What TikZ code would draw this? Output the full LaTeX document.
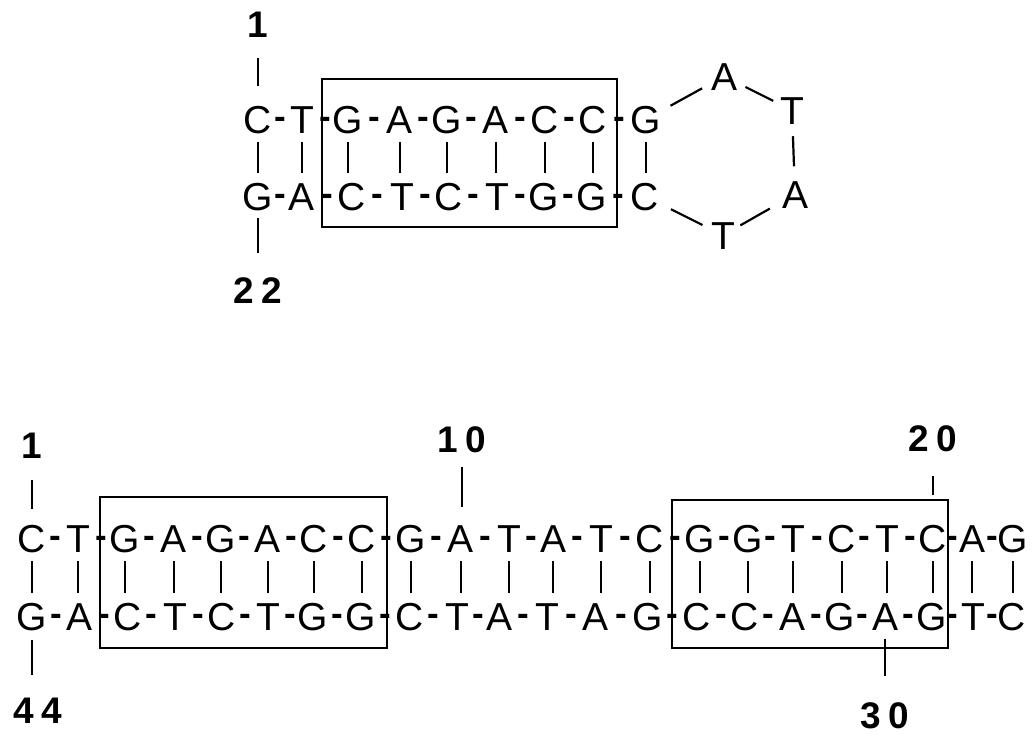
\documentclass[tikz,border=0pt]{standalone}
\usepackage{fontspec}
\setmainfont{Liberation Sans}
\usetikzlibrary{calc}
\begin{document}
\begin{tikzpicture}[x=1pt,y=-1pt,
  nt/.style={inner sep=0pt, anchor=base, font=\fontsize{39}{39}\selectfont, text height=27.5pt, text depth=0pt},
  hy/.style={inner sep=0pt, anchor=base, font=\fontsize{35}{35}\selectfont\bfseries},
  num/.style={inner sep=0pt, font=\fontsize{37}{37}\selectfont\bfseries, text height=26.5pt, text depth=0pt},
  pairline/.style={line width=2.2pt, shorten <=9pt, shorten >=9pt},
  tickline/.style={line width=2pt},
  boxline/.style={line width=1.3pt},
  loopline/.style={line width=2.2pt},
]
\useasboundingbox (0,0) rectangle (1036,734);
% ---------- top hairpin ----------
\foreach \x/\l [count=\i] in {258/C,302/T,348/G,400/A,447/G,496/A,545/C,593/C,646/G}
  \node[nt] (h\i) at (\x,133) {\l};
\foreach \x/\l [count=\i] in {258/G,302/A,352/C,402/T,449/C,497/T,544/G,592/G,645/C}
  \node[nt] (k\i) at (\x,210) {\l};
\foreach \i [evaluate=\i as \j using int(\i+1)] in {1,...,8}{
  \node[hy] (hh\i) at ($(h\i.base)!0.5!(h\j.base)+(0,-4.5)$) {-};
  \node[hy] (kh\i) at ($(k\i.base)!0.5!(k\j.base)+(0,-4.5)$) {-};
}
\foreach \i in {1,...,9}
  \draw[pairline] (h\i.south) -- (h\i.south |- k\i.north);
% loop
\node[nt] (la) at (724,90) {A};
\node[nt] (lt) at (792,124) {T};
\node[nt] (lb) at (795,208) {A};
\node[nt] (lu) at (723,249) {T};
\draw[loopline, shorten <=28pt, shorten >=25pt] (h9.center) -- (la.center);
\draw[loopline, shorten <=24pt, shorten >=21pt] (la.center) -- (lt.center);
\draw[loopline, shorten <=26pt, shorten >=28pt] (lt.center) -- (lb.center);
\draw[loopline, shorten <=29pt, shorten >=20pt] (lb.center) -- (lu.center);
\draw[loopline, shorten <=23pt, shorten >=29pt] (lu.center) -- (k9.center);
% box
\draw[boxline] (322,79) rectangle (617,227);
% numbers
\node[num] (n1) at (258,24) {1};
\node[num] (n22) at (258,290) {2\kern8pt2};
\draw[tickline, shorten <=21pt, shorten >=19pt] (n1.south) -- (h1.north);
\draw[tickline, shorten <=8pt, shorten >=24pt] (k1.south) -- (k1.south |- n22.north);
% ---------- bottom duplex ----------
\foreach \x/\l [count=\i] in {32/C,78/T,125/G,174/A,221/G,268/A,314/C,362/C,411/G,461/A,509/T,553/A,601/T,650/C,700/G,748/G,793/T,842/C,887/T,933/C,972/A,1013/G}
  \node[nt] (t\i) at (\x,552) {\l};
\foreach \x/\l [count=\i] in {32/G,80/A,128/C,175/T,222/C,268/T,313/G,361/G,410/C,457/T,500/A,547/T,595/A,648/G,697/C,745/C,792/A,840/G,885/A,932/G,973/T,1012/C}
  \node[nt] (b\i) at (\x,630) {\l};
\foreach \i [evaluate=\i as \j using int(\i+1)] in {1,...,21}{
  \node[hy] (th\i) at ($(t\i.base)!0.5!(t\j.base)+(0,-4.5)$) {-};
  \node[hy] (bh\i) at ($(b\i.base)!0.5!(b\j.base)+(0,-4.5)$) {-};
}
\foreach \i in {1,...,22}
  \draw[pairline] (t\i.south) -- (t\i.south |- b\i.north);
\draw[boxline] (100,497) rectangle (387,648);
\draw[boxline] (672,500) rectangle (948,648);
\node[num] (m1) at (32,445) {1};
\node[num] (m44) at (38,710) {4\kern8pt4};
\node[num] (m10) at (462,439) {1\kern8pt0};
\node[num] (m20) at (933,438) {2\kern8pt0};
\node[num] (m30) at (885,715) {3\kern8pt0};
\draw[tickline, shorten <=22pt, shorten >=15pt] (m1.south) -- (m1.south |- t1.north);
\draw[tickline, shorten <=10pt, shorten >=22pt] (b1.south) -- (b1.south |- m44.north);
\draw[tickline, shorten <=15pt, shorten >=17pt] (m10.south) -- (m10.south |- t10.north);
\draw[tickline, shorten <=25pt, shorten >=29pt] (m20.south) -- (m20.south |- t20.north);
\draw[tickline, shorten <=9pt, shorten >=26pt] (b19.south) -- (b19.south |- m30.north);
\end{tikzpicture}
\end{document}
